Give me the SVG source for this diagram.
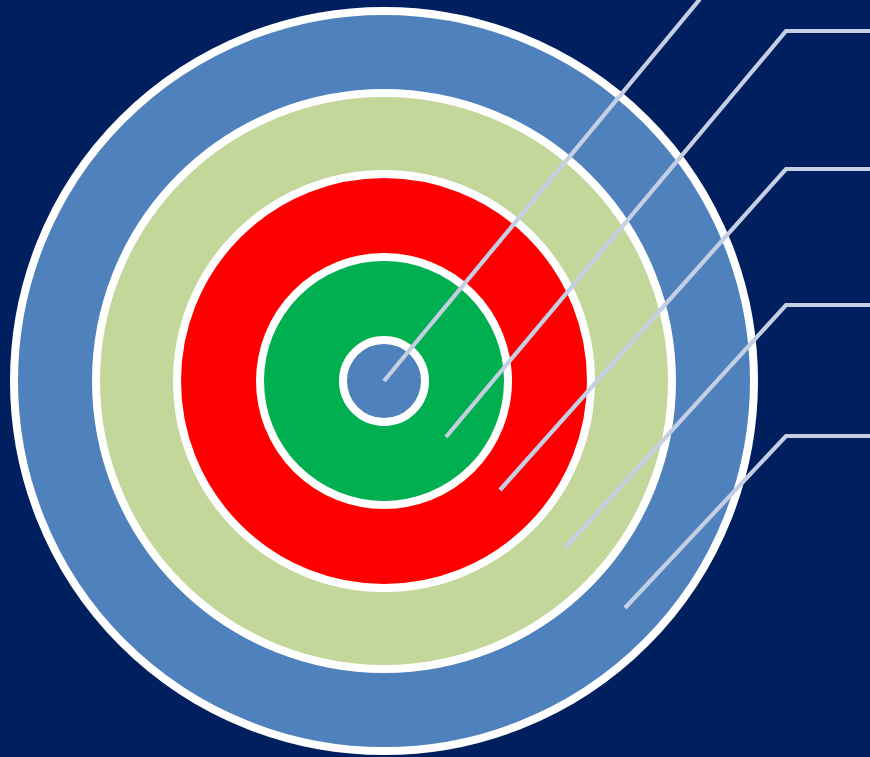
<svg xmlns="http://www.w3.org/2000/svg" width="870" height="757" viewBox="0 0 870 757">
<style>
.ring{stroke:#FFFFFF;stroke-width:8}
.lead{fill:none;stroke:#C5CFE3;stroke-width:4.2}
</style>
<rect x="0" y="0" width="870" height="757" fill="#001F5E"/>
<g id="ring-outer"><circle class="ring" cx="384" cy="381" r="370" fill="#4F81BD"/></g>
<g id="ring-lightgreen"><circle class="ring" cx="384" cy="381" r="288" fill="#C4D79B"/></g>
<g id="ring-red"><circle class="ring" cx="384" cy="381" r="207" fill="#FF0000"/></g>
<g id="ring-green"><circle class="ring" cx="384" cy="381" r="124" fill="#00B050"/></g>
<g id="ring-center"><circle class="ring" cx="384" cy="381" r="41" fill="#4F81BD"/></g>
<g id="connectors">
<polyline class="lead" points="384,381 700,-1"/>
<polyline class="lead" points="446,437 786,31 870,31"/>
<polyline class="lead" points="500,490 786,169 870,169"/>
<polyline class="lead" points="565,548 786,305 870,305"/>
<polyline class="lead" points="625,608 786,436 870,436"/>
</g>
</svg>
